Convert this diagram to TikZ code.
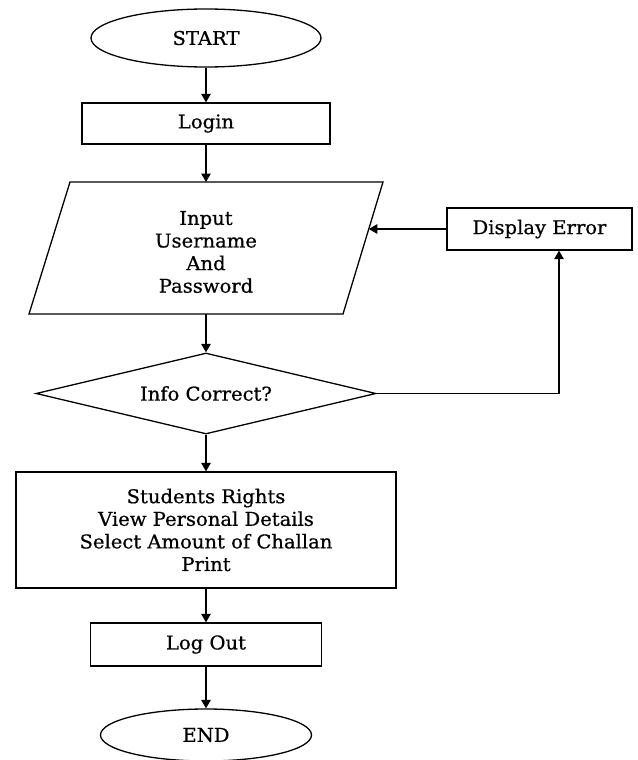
\documentclass[tikz,border=0pt]{standalone}
\usepackage{fontspec}
\setmainfont{DejaVu Serif}[FakeStretch=1.03,FakeBold=0.6]
\usetikzlibrary{arrows.meta,shapes.geometric}
\begin{document}
\begin{tikzpicture}[x=1pt,y=-1pt,
  every node/.style={font=\fontsize{19}{22.6}\selectfont, align=center, inner sep=0pt},
  box/.style={draw, line width=1.3pt, rectangle},
  term/.style={draw, line width=1.3pt, ellipse},
  dec/.style={draw, line width=1.3pt, diamond, aspect=4.2},
  flow/.style={line width=1.3pt, -{Triangle[length=8.5pt,width=9.5pt]}}]
\useasboundingbox (0,0) rectangle (637,760);
\fill[white] (0,0) rectangle (637,760);
\node[term, minimum width=230pt, minimum height=58pt] (start) at (206,38) {START};
\node[box, minimum width=248pt, minimum height=41pt] (login) at (206,123.5) {Login};
\coordinate (pTL) at (70,182);
\coordinate (pTR) at (383,182);
\coordinate (pBR) at (343,314);
\coordinate (pBL) at (29,314);
\draw[line width=1.3pt] (pTL) -- (pTR) -- (pBR) -- (pBL) -- cycle;
\node (input) at (206,252) {Input\\Username\\And\\Password};
\coordinate (inTop) at (206,182);
\coordinate (inBot) at (206,314);
\coordinate (inRight) at (368.8,229);
\node[dec, minimum width=340pt, minimum height=81pt] (dia) at (206,393.5) {Info Correct?};
\node[box, minimum width=185pt, minimum height=42pt] (err) at (539.5,229) {Display Error};
\node[box, minimum width=380pt, minimum height=116pt] (rights) at (206,530) {Students Rights\\View Personal Details\\Select Amount of Challan\\Print};
\node[box, minimum width=231pt, minimum height=43pt] (logout) at (206,644.5) {Log Out};
\node[term, minimum width=211pt, minimum height=52pt] (end) at (206,735) {END};
\coordinate (turn) at (559,393.5);
\draw[flow] (start.south) -- (login.north);
\draw[flow] (login.south) -- (inTop);
\draw[flow] (inBot) -- (dia.north);
\draw[flow] (dia.south) -- (rights.north);
\draw[flow] (rights.south) -- (logout.north);
\draw[flow] (logout.south) -- (end.north);
\draw[flow] (dia.east) -- (turn) -- (turn |- err.south);
\draw[flow] (err.west) -- (inRight);
\end{tikzpicture}
\end{document}
